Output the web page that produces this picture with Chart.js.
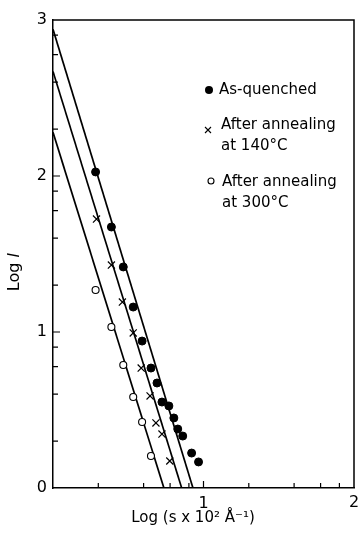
<!DOCTYPE html>
<html>
<head>
<meta charset="utf-8">
<script src="https://cdn.jsdelivr.net/npm/chart.js@4"></script>
<style>
  html, body { margin: 0; padding: 0; background: #fff; }
  canvas { display: block; }
</style>
</head>
<body>
<canvas id="chart" width="360" height="535"></canvas>
<script>
// данные (Log s, Log I)
const quenchedX = [0.283, 0.388, 0.467, 0.533, 0.592, 0.651, 0.691, 0.724, 0.770, 0.803, 0.829, 0.862, 0.921, 0.967];
const quenchedY = [2.026, 1.673, 1.417, 1.160, 0.942, 0.769, 0.673, 0.551, 0.526, 0.449, 0.378, 0.333, 0.224, 0.167];

const anneal140X = [0.289, 0.388, 0.461, 0.533, 0.586, 0.645, 0.684, 0.724, 0.776];
const anneal140Y = [1.724, 1.429, 1.192, 0.994, 0.769, 0.590, 0.417, 0.346, 0.173];

const anneal300X = [0.283, 0.388, 0.467, 0.533, 0.592, 0.651];
const anneal300Y = [1.269, 1.032, 0.788, 0.583, 0.423, 0.205];

// прямые (концы линий)
const fitQuenchedX = [0, 0.93];
const fitQuenchedY = [2.94, 0];
const fit140X = [0, 0.855];
const fit140Y = [2.67, 0];
const fit300X = [0, 0.737];
const fit300Y = [2.28, 0];

// деления осей
const xMajorTicks = [0, 1, 2];
const xTickLabels = ['', '1', '2'];
const xMinorTicks = [0.301, 0.602, 0.778, 0.903, 1.301, 1.602, 1.778, 1.903];
const yMajorTicks = [0, 1, 2, 3];
const yTickLabels = ['0', '1', '2', '3'];
const yMinorTicks = [0.301, 0.602, 0.778, 0.903, 1.301, 1.602, 1.778, 1.903, 2.301, 2.602, 2.778, 2.903];

const legendLabels = ['As-quenched', 'After annealing', 'at 140\u00b0C', 'After annealing', 'at 300\u00b0C'];

function toPoints(xs, ys) {
  return xs.map((x, i) => ({ x: x, y: ys[i] }));
}

const FONT = '"DejaVu Sans", sans-serif';
const X_LAST = xMajorTicks.length - 1;

// рамка, внутренние деления, легенда и подписи осей
const framePlugin = {
  id: 'frame',
  afterDraw(chart) {
    const ctx = chart.ctx;
    const { left, right, top, bottom } = chart.chartArea;
    const xs = chart.scales.x;
    const ys = chart.scales.y;
    ctx.save();
    ctx.strokeStyle = '#000';
    ctx.lineWidth = 1.5;
    ctx.beginPath();
    ctx.moveTo(left, top);
    ctx.lineTo(right, top);
    ctx.lineTo(right, bottom);
    ctx.stroke();

    ctx.lineWidth = 1.2;
    ctx.beginPath();
    xMinorTicks.forEach(v => {
      const px = xs.getPixelForValue(v);
      ctx.moveTo(px, bottom);
      ctx.lineTo(px, bottom - 5);
    });
    xMajorTicks.forEach(v => {
      if (v === 0 || v === 2) return;
      const px = xs.getPixelForValue(v);
      ctx.moveTo(px, bottom);
      ctx.lineTo(px, bottom - 7);
    });
    yMinorTicks.forEach(v => {
      const py = ys.getPixelForValue(v);
      ctx.moveTo(left, py);
      ctx.lineTo(left + 5, py);
    });
    yMajorTicks.forEach(v => {
      if (v === 0 || v === 3) return;
      const py = ys.getPixelForValue(v);
      ctx.moveTo(left, py);
      ctx.lineTo(left + 7, py);
    });
    ctx.stroke();

    // последняя метка оси x (обрезана краем, как в оригинале)
    ctx.fillStyle = '#000';
    ctx.font = '16px ' + FONT;
    ctx.textAlign = 'center';
    ctx.textBaseline = 'middle';
    ctx.fillText(xTickLabels[X_LAST], xs.getPixelForValue(xMajorTicks[X_LAST]), 503);

    // легенда
    ctx.beginPath();
    ctx.arc(209, 90, 4, 0, Math.PI * 2);
    ctx.fill();

    ctx.lineWidth = 1.1;
    ctx.beginPath();
    ctx.moveTo(205, 127); ctx.lineTo(211, 133);
    ctx.moveTo(211, 127); ctx.lineTo(205, 133);
    ctx.stroke();

    ctx.beginPath();
    ctx.arc(211, 181, 3, 0, Math.PI * 2);
    ctx.stroke();

    ctx.font = '15px ' + FONT;
    ctx.textAlign = 'left';
    ctx.fillText(legendLabels[0], 219, 90);
    ctx.fillText(legendLabels[1], 221, 125);
    ctx.fillText(legendLabels[2], 221, 146);
    ctx.fillText(legendLabels[3], 222, 182);
    ctx.fillText(legendLabels[4], 222, 203);

    // подпись оси x
    ctx.textAlign = 'center';
    ctx.fillText('Log (s x 10\u00b2 \u00c5\u207b\u00b9)', 193, 518);

    // подпись оси y: Log I
    ctx.translate(15, 272);
    ctx.rotate(-Math.PI / 2);
    ctx.font = '16px ' + FONT;
    const part1 = 'Log ';
    const w1 = ctx.measureText(part1).width;
    ctx.font = 'italic 16px ' + FONT;
    const w2 = ctx.measureText('I').width;
    const start = -(w1 + w2) / 2;
    ctx.textAlign = 'left';
    ctx.font = '16px ' + FONT;
    ctx.fillText(part1, start, 0);
    ctx.font = 'italic 16px ' + FONT;
    ctx.fillText('I', start + w1, 0);
    ctx.restore();
  }
};

const lineStyle = { type: 'line', borderColor: '#000', borderWidth: 1.7, pointRadius: 0, fill: false, showLine: true, order: 2 };

const ctx = document.getElementById('chart').getContext('2d');
const chart = new Chart(ctx, {
  type: 'scatter',
  data: {
    datasets: [
      Object.assign({ label: 'fit quenched', data: toPoints(fitQuenchedX, fitQuenchedY) }, lineStyle),
      Object.assign({ label: 'fit 140', data: toPoints(fit140X, fit140Y) }, lineStyle),
      Object.assign({ label: 'fit 300', data: toPoints(fit300X, fit300Y) }, lineStyle),
      {
        label: 'As-quenched',
        data: toPoints(quenchedX, quenchedY),
        pointStyle: 'circle',
        pointRadius: 4,
        backgroundColor: '#000',
        borderColor: '#000',
        borderWidth: 1,
        order: 1
      },
      {
        label: 'After annealing at 140\u00b0C',
        data: toPoints(anneal140X, anneal140Y),
        pointStyle: 'crossRot',
        pointRadius: 5,
        borderColor: '#000',
        borderWidth: 1.2,
        order: 1
      },
      {
        label: 'After annealing at 300\u00b0C',
        data: toPoints(anneal300X, anneal300Y),
        pointStyle: 'circle',
        pointRadius: 3.5,
        backgroundColor: '#fff',
        borderColor: '#000',
        borderWidth: 1.1,
        order: 1
      }
    ]
  },
  options: {
    responsive: false,
    animation: false,
    devicePixelRatio: 1,
    layout: { autoPadding: false, padding: { top: 20, right: 3, left: 0, bottom: 0 } },
    plugins: {
      legend: { display: false },
      tooltip: { enabled: false }
    },
    scales: {
      x: {
        type: 'linear',
        min: 0,
        max: 2,
        afterBuildTicks: s => { s.ticks = xMajorTicks.map(v => ({ value: v })); },
        afterFit: s => { s.height = 47; },
        ticks: {
          autoSkip: false,
          maxRotation: 0,
          padding: 6,
          color: '#000',
          font: { family: FONT, size: 16 },
          // последнюю метку рисует плагин, чтобы она не сжимала область графика
          callback: (v, i) => (i === X_LAST ? '' : xTickLabels[xMajorTicks.indexOf(v)])
        },
        grid: { display: false, drawTicks: false },
        border: { display: true, color: '#000', width: 1.5 }
      },
      y: {
        type: 'linear',
        min: 0,
        max: 3,
        afterBuildTicks: s => { s.ticks = yMajorTicks.map(v => ({ value: v })); },
        afterFit: s => { s.width = 53; },
        ticks: {
          autoSkip: false,
          padding: 6,
          color: '#000',
          font: { family: FONT, size: 16 },
          callback: (v) => yTickLabels[yMajorTicks.indexOf(v)]
        },
        grid: { display: false, drawTicks: false },
        border: { display: true, color: '#000', width: 1.5 }
      }
    }
  },
  plugins: [framePlugin]
});
</script>
</body>
</html>
